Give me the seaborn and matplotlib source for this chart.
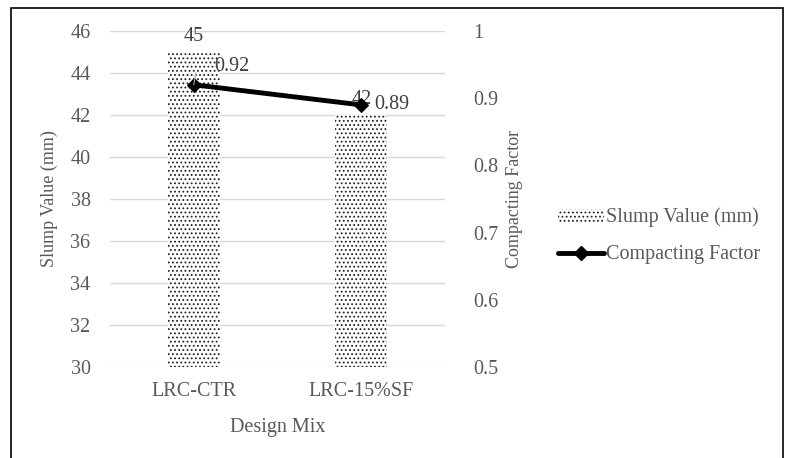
import matplotlib
matplotlib.use("Agg")
import matplotlib.pyplot as plt
import matplotlib.patches as mpatches
import matplotlib.lines as mlines
import seaborn as sns
import pandas as pd

mixes = ["LRC-CTR", "LRC-15%SF"]
slump = [45, 42]
compacting = [0.92, 0.89]
slump_ticks = [30, 32, 34, 36, 38, 40, 42, 44, 46]
cf_ticks = [0.5, 0.6, 0.7, 0.8, 0.9, 1.0]
cf_tick_labels = ["0.5", "0.6", "0.7", "0.8", "0.9", "1"]

df = pd.DataFrame({"mix": mixes, "slump": slump, "cf": compacting})

sns.set_theme(style="white")
plt.rcParams["font.family"] = ["Liberation Serif", "DejaVu Serif"]
plt.rcParams["hatch.linewidth"] = 0.8
plt.rcParams["hatch.color"] = "#222222"

text_col = "#595959"
label_col = "#404040"
fs = 14.5
fs_title = 13
dots = "...."

fig = plt.figure(figsize=(7.86, 4.58), dpi=100)
ax = fig.add_axes([110 / 786, 1 - 367 / 458, 335 / 786, 336 / 458])

sns.barplot(data=df, x="mix", y="slump", ax=ax, width=0.31, color="white",
            edgecolor="#222222", linewidth=0, hatch=dots, zorder=2)
ax.set_ylim(30, 46)
ax.set_xlim(-0.5, 1.5)
ax.set_yticks(slump_ticks)
ax.grid(axis="y", color="#d9d9d9", linewidth=1, zorder=0)
ax.set_axisbelow(True)
for s in ax.spines.values():
    s.set_visible(False)
ax.tick_params(axis="both", length=0, labelsize=fs, labelcolor=text_col)
ax.tick_params(axis="y", pad=14)
ax.tick_params(axis="x", pad=11)
ax.set_xlabel("Design Mix", fontsize=fs, color=text_col, labelpad=12)
ax.set_ylabel("Slump Value (mm)", fontsize=fs_title, color=text_col, labelpad=9)

for i, v in enumerate(slump):
    ax.text(i, v + 0.3, f"{v}", ha="center", va="bottom", fontsize=fs, color=label_col)

ax2 = ax.twinx()
sns.lineplot(data=df, x="mix", y="cf", ax=ax2, color="black", linewidth=3.5,
             marker="D", markersize=7, markeredgecolor="black", zorder=3)
ax2.set_ylim(0.5, 1.0)
ax2.set_xlim(-0.5, 1.5)
ax2.set_yticks(cf_ticks)
ax2.set_yticklabels(cf_tick_labels)
for s in ax2.spines.values():
    s.set_visible(False)
ax2.tick_params(axis="y", length=0, labelsize=fs, labelcolor=text_col, pad=20)
ax2.set_ylabel("Compacting Factor", fontsize=fs_title, color=text_col, labelpad=6)
ax2.set_xlabel("")

ax2.annotate(f"{compacting[0]:.2f}", xy=(0, compacting[0]), xytext=(0.23, 0.947),
             textcoords="data", ha="center", va="center", fontsize=fs, color=label_col,
             arrowprops=dict(arrowstyle="-", color="#a6a6a6", lw=0.8,
                             connectionstyle="angle,angleA=0,angleB=80,rad=0",
                             shrinkA=12, shrinkB=0))
ax2.text(1 + 0.08, compacting[1], f"{compacting[1]:.2f}", ha="left", va="center",
         fontsize=fs, color=label_col)

bar_handle = mpatches.Patch(facecolor="white", edgecolor="#222222", linewidth=0,
                            hatch=dots, label="Slump Value (mm)")
line_handle = mlines.Line2D([], [], color="black", linewidth=3.5, marker="D",
                            markersize=7, label="Compacting Factor")
fig.legend(handles=[bar_handle, line_handle], loc="center left",
           bbox_to_anchor=(540 / 786, 1 - 236 / 458), frameon=False, fontsize=fs,
           labelcolor=text_col, handlelength=2.3, handleheight=0.6, handletextpad=0.1,
           labelspacing=0.9)

border = mpatches.Rectangle((11 / 786, -0.01), (783 - 11) / 786, (458 - 8) / 458 + 0.01,
                            transform=fig.transFigure, fill=False, edgecolor="black",
                            linewidth=1.2)
fig.patches.append(border)

fig.savefig("out.png", dpi=100)
